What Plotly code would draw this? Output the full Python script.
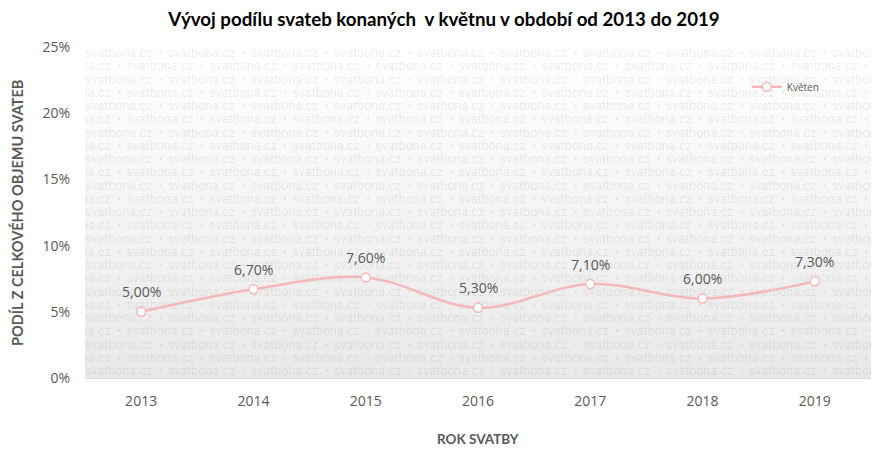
import plotly.graph_objects as go

# ---- data ----
years = ["2013", "2014", "2015", "2016", "2017", "2018", "2019"]
share_may = [0.050, 0.067, 0.076, 0.053, 0.071, 0.060, 0.073]
series_name = "Květen"
title_text = "Vývoj podílu svateb konaných  v květnu v období od 2013 do 2019"
x_title = "ROK SVATBY"
y_title = "PODÍL Z CELKOVÉHO OBJEMU SVATEB"
watermark_word = "svatbona.cz"

# ---- styling ----
W, H = 888, 456
ML, MR, MT, MB = 85, 17, 47, 78
PW, PH = W - ML - MR, H - MT - MB
PINK = "#f4b8b7"
GREY = "#595959"

fig = go.Figure()

# watermark (decorative) on pixel-based hidden primary axes
row_step = 13.25
period = 83.0
wx, wy, wt = [], [], []
for i in range(27):
    yrow = PH - (7 + row_step * i)
    shift = 0 if i % 2 == 0 else -period / 2
    k = -1
    while True:
        cw = 33.5 + shift + period * k
        cb = 75.5 + shift + period * k
        if cw > PW + 5:
            break
        if cw >= -10:
            wx.append(cw); wy.append(yrow); wt.append(watermark_word)
        if -2 <= cb <= PW + 2:
            wx.append(cb); wy.append(yrow); wt.append("•")
        k += 1
fig.add_trace(go.Scatter(
    x=wx, y=wy, text=wt, mode="text", textposition="middle center",
    textfont=dict(family="Roboto", size=12.6, color="rgba(0,0,0,0.085)"),
    hoverinfo="skip", showlegend=False, cliponaxis=True,
    xaxis="x", yaxis="y",
))

# main series
fig.add_trace(go.Scatter(
    x=years, y=share_may, name=series_name,
    mode="lines+markers",
    line=dict(color=PINK, width=2.5, shape="spline", smoothing=1.0),
    marker=dict(symbol="circle", size=9, color="white",
                line=dict(color=PINK, width=1.5)),
    xaxis="x2", yaxis="y2", cliponaxis=False,
))

annotations = []
for idx, v in enumerate(share_may):
    annotations.append(dict(
        x=idx, y=v, xref="x2", yref="y2", yshift=20,
        text=f"{v * 100:.2f}%".replace(".", ","), showarrow=False,
        xanchor="center", yanchor="middle",
        font=dict(family="Open Sans", size=14, color=GREY),
    ))
annotations += [
    dict(text="<b>" + x_title + "</b>", xref="paper", yref="paper",
         x=0.5, y=0, yshift=-(439 - 378), showarrow=False,
         xanchor="center", yanchor="middle",
         font=dict(family="Lato", size=13.5, color=GREY)),
    dict(text="<b>" + y_title + "</b>", xref="paper", yref="paper",
         x=0, y=0.5, xshift=-(ML - 17), yshift=(MT + PH / 2 - 213),
         xanchor="center", yanchor="middle",
         textangle=-90, showarrow=False,
         font=dict(family="Lato", size=14.5, color=GREY)),
]

# gradient background bands
shapes = []
nb = 60
for k in range(nb):
    t = (k + 0.5) / nb
    v = round(255 - (255 - 233) * t)
    shapes.append(dict(
        type="rect", xref="paper", yref="paper",
        x0=0, x1=1, y0=1 - (k + 1) / nb, y1=1 - k / nb + 0.002,
        fillcolor=f"rgb({v},{v},{v})", line=dict(width=0), layer="below",
    ))

fig.update_layout(
    width=W, height=H,
    margin=dict(l=ML, r=MR, t=MT, b=MB, pad=0),
    paper_bgcolor="white", plot_bgcolor="white",
    separators=", ",
    shapes=shapes,
    annotations=annotations,
    title=dict(text="<b>" + title_text + "</b>", x=0.5, xanchor="center",
               y=1 - 19 / H, yanchor="middle",
               font=dict(family="Lato", size=18.7, color="black")),
    xaxis=dict(range=[0, PW], visible=False, fixedrange=True),
    yaxis=dict(range=[0, PH], visible=False, fixedrange=True),
    xaxis2=dict(overlaying="x", side="bottom", type="category",
                range=[-0.5, 6.5], showgrid=False, zeroline=False,
                showline=True, linecolor="#d9d9d9", linewidth=1,
                ticks="", ticklabelstandoff=10,
                tickfont=dict(family="Open Sans", size=14, color=GREY)),
    yaxis2=dict(overlaying="y", side="left", range=[0, 0.25], dtick=0.05,
                tickformat=".0%", showgrid=False, zeroline=False,
                showline=False, ticks="", ticklabelstandoff=14,
                tickfont=dict(family="Open Sans", size=14, color=GREY)),
    legend=dict(x=0.842, y=0.88, xanchor="left", yanchor="middle",
                bgcolor="rgba(0,0,0,0)",
                font=dict(family="Open Sans", size=10, color=GREY),
                itemwidth=30),
)

fig.write_html("out.html",
               config={"displayModeBar": False},
               post_script="document.body.style.margin='0';")
